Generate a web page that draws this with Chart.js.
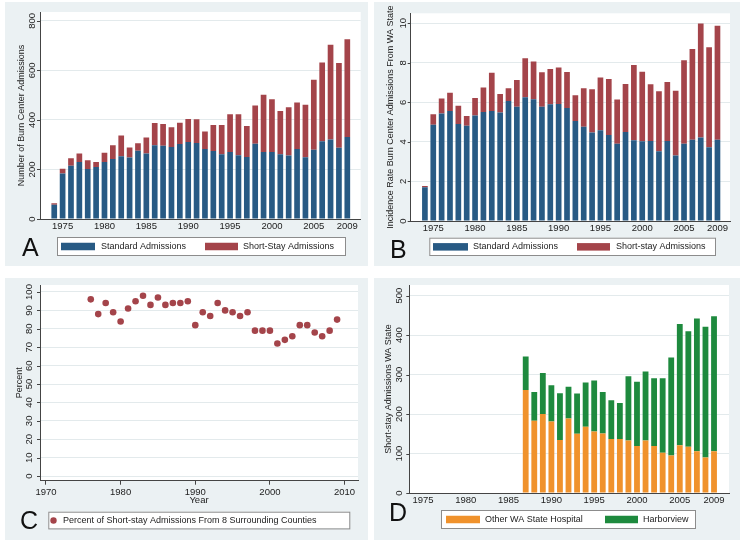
<!DOCTYPE html>
<html><head><meta charset="utf-8">
<script src="https://cdn.jsdelivr.net/npm/chart.js@4"></script>
<style>
body{margin:0;width:745px;height:545px;background:#fff;position:relative;overflow:hidden;font-family:'Liberation Sans',Arial,sans-serif;}
.panel{position:absolute;background:#ebf1f3;}
.panel canvas{position:absolute;left:0;top:0;}
.letter{position:absolute;font-size:25px;line-height:25px;color:#111;font-family:'Liberation Sans',Arial,sans-serif;}
</style></head><body>
<div class="panel" style="left:5px;top:2px;width:363px;height:264px"><canvas id="cA" width="363" height="264"></canvas></div>
<div class="panel" style="left:374px;top:2px;width:366px;height:264px"><canvas id="cB" width="366" height="264"></canvas></div>
<div class="panel" style="left:5px;top:278px;width:363px;height:262px"><canvas id="cC" width="363" height="262"></canvas></div>
<div class="panel" style="left:374px;top:278px;width:366px;height:262px"><canvas id="cD" width="366" height="262"></canvas></div>
<div class="letter" style="left:22px;top:235px">A</div>
<div class="letter" style="left:390px;top:237px">B</div>
<div class="letter" style="left:20px;top:508px">C</div>
<div class="letter" style="left:389px;top:500px">D</div>
<script>
// ---------- DATA ----------
const years = [1974,1975,1976,1977,1978,1979,1980,1981,1982,1983,1984,1985,1986,1987,1988,1989,1990,1991,1992,1993,1994,1995,1996,1997,1998,1999,2000,2001,2002,2003,2004,2005,2006,2007,2008,2009];
const barXTicks = [1975,1980,1985,1990,1995,2000,2005,2009];

// Panel A: number of burn center admissions
const aStandard  = [58,184,215,230,202,210,230,242,253,248,276,265,298,296,291,303,311,307,283,275,261,271,257,250,304,271,271,261,256,283,249,280,314,321,288,331];
const aShortStay = [6,19,30,35,35,20,38,56,84,41,30,64,90,88,80,86,93,96,70,105,119,152,166,126,154,231,213,175,195,188,212,282,318,383,342,395];
const aYTicks = [0,200,400,600,800];

// Panel B: incidence rate
const bStandard  = [1.70,4.86,5.43,5.56,4.91,4.81,5.33,5.51,5.56,5.48,6.07,5.78,6.26,6.15,5.78,5.90,5.91,5.71,5.06,4.76,4.47,4.59,4.35,3.90,4.50,4.08,4.03,4.05,3.52,4.05,3.31,3.91,4.11,4.22,3.73,4.11];
const bShortStay = [0.07,0.54,0.76,0.92,0.91,0.50,0.89,1.24,1.93,0.94,0.64,1.35,1.97,1.91,1.74,1.79,1.85,1.82,1.30,1.95,2.19,2.66,2.83,2.24,2.43,3.81,3.51,2.86,3.04,2.98,3.28,4.22,4.59,5.76,5.06,5.76];
const bYTicks = [0,2,4,6,8,10];

// Panel C: percent of short-stay admissions from 8 surrounding counties
const cYears = [1976,1977,1978,1979,1980,1981,1982,1983,1984,1985,1986,1987,1988,1989,1990,1991,1992,1993,1994,1995,1996,1997,1998,1999,2000,2001,2002,2003,2004,2005,2006,2007,2008,2009];
const cPercent = [96,88,94,89,84,91,95,98,93,97,93,94,94,95,82,89,87,94,90,89,87,89,79,79,79,72,74,76,82,82,78,76,79,85];
const cXTicks = [1970,1980,1990,2000,2010];
const cYTicks = [0,10,20,30,40,50,60,70,80,90,100];

// Panel D: short-stay admissions WA state
const dYears = [1987,1988,1989,1990,1991,1992,1993,1994,1995,1996,1997,1998,1999,2000,2001,2002,2003,2004,2005,2006,2007,2008,2009];
const dOtherHospital = [261,183,200,181,134,189,150,168,156,151,137,137,133,119,133,119,102,95,121,117,106,90,106];
const dHarborview    = [85,73,104,92,119,80,102,112,129,105,98,91,163,163,175,172,189,248,307,293,336,331,342];
const dYTicks = [0,100,200,300,400,500];

// ---------- STYLE ----------
const FONT = "'Liberation Sans', Arial, sans-serif";
const NAVY = '#285a84', MAROON = '#a4444a', ORANGE = '#f0922c', GREEN = '#1e8a3e';
const TXT = '#222', AXIS = '#444', GRID = '#e3eaec';

const stataPlugin = {
  id: 'stata',
  beforeDraw(chart) {
    const {ctx, chartArea: a} = chart;
    ctx.save(); ctx.fillStyle = '#fff';
    ctx.fillRect(a.left, a.top, a.right - a.left, a.bottom - a.top);
    ctx.restore();
  },
  afterDraw(chart, args, opts) {
    const {ctx, chartArea: a} = chart;
    const ys = chart.scales.y;
    ctx.save();
    ctx.font = '9.5px ' + FONT;
    ctx.fillStyle = TXT; ctx.strokeStyle = AXIS; ctx.lineWidth = 1;
    ys.ticks.forEach(t => {
      const y = ys.getPixelForValue(t.value);
      const yy = Math.round(y) + 0.5;
      ctx.beginPath(); ctx.moveTo(a.left - 3, yy); ctx.lineTo(a.left, yy); ctx.stroke();
      ctx.save(); ctx.translate(opts.labelX, y); ctx.rotate(-Math.PI / 2);
      ctx.textAlign = 'center'; ctx.textBaseline = 'middle';
      ctx.fillText(t.label != null ? String(t.label) : String(t.value), 0, 0);
      ctx.restore();
    });
    const L = opts.legend;
    ctx.fillStyle = '#fff'; ctx.fillRect(L.x, L.y, L.w, L.h);
    ctx.strokeStyle = '#8c8c8c'; ctx.strokeRect(L.x + 0.5, L.y + 0.5, L.w, L.h);
    const cy = L.y + L.h / 2 + 0.5;
    ctx.font = '9px ' + FONT; ctx.textBaseline = 'middle'; ctx.textAlign = 'left';
    L.items.forEach((it, i) => {
      const ds = chart.data.datasets[i];
      ctx.fillStyle = ds.backgroundColor;
      if (it.type === 'circle') {
        ctx.beginPath(); ctx.arc(it.x, cy, 3.2, 0, Math.PI * 2); ctx.fill();
      } else {
        ctx.fillRect(it.x, cy - 3.75, it.w, 7.5);
      }
      ctx.fillStyle = TXT;
      ctx.fillText(ds.label, it.textX, cy);
    });
    ctx.restore();
  }
};

function yScale(cfg) {
  return {
    stacked: cfg.stacked, min: cfg.min, max: cfg.max,
    afterBuildTicks: s => { s.ticks = cfg.ticks.map(v => ({value: v})); },
    afterFit: s => { s.width = cfg.width; },
    ticks: {display: false, callback: v => String(v)},
    grid: {color: GRID, drawTicks: false},
    border: {display: true, color: AXIS, width: 1},
    title: {display: true, text: cfg.title, color: TXT, font: {size: 9, family: FONT}, padding: {top: cfg.titlePad, bottom: 0}}
  };
}
function xBarScale(cfg) {
  return {
    type: 'linear', stacked: true, min: cfg.min, max: cfg.max, offset: false,
    afterBuildTicks: s => { s.ticks = barXTicks.map(v => ({value: v})); },
    afterFit: s => { s.height = cfg.height; },
    ticks: {callback: v => String(v), color: TXT, font: {size: 9.5, family: FONT}, padding: 2, maxRotation: 0, autoSkip: false},
    grid: {display: false, drawTicks: false, offset: false},
    border: {display: true, color: AXIS, width: 1}
  };
}
function pts(xs, vs) { return xs.map((x, i) => ({x: x, y: vs[i]})); }
function barDs(label, xs, vs, color) {
  return {label, data: pts(xs, vs), backgroundColor: color, borderWidth: 0, barPercentage: 0.68, categoryPercentage: 1};
}
const common = {responsive: false, animation: false, devicePixelRatio: 1};

// Panel A
new Chart(document.getElementById('cA'), {
  type: 'bar',
  data: {datasets: [
    barDs('Standard Admissions', years, aStandard, NAVY),
    barDs('Short-Stay Admissions', years, aShortStay, MAROON)
  ]},
  options: Object.assign({}, common, {
    layout: {padding: {left: 0, right: 7.3, top: 10, bottom: 27}},
    scales: {
      x: xBarScale({min: 1972.3, max: 2010.6, height: 20}),
      y: yScale({stacked: true, min: 0, max: 836, ticks: aYTicks, width: 35, title: 'Number of Burn Center Admissions', titlePad: 11.3})
    },
    plugins: {legend: {display: false}, tooltip: {enabled: false},
      stata: {labelX: 27.3, legend: {x: 52, y: 235, w: 288, h: 18, items: [{x: 56, w: 34, textX: 96}, {x: 200, w: 33, textX: 238}]}}}
  }),
  plugins: [stataPlugin]
});

// Panel B
new Chart(document.getElementById('cB'), {
  type: 'bar',
  data: {datasets: [
    barDs('Standard Admissions', years, bStandard, NAVY),
    barDs('Short-stay Admissions', years, bShortStay, MAROON)
  ]},
  options: Object.assign({}, common, {
    layout: {padding: {left: 0, right: 10, top: 11.3, bottom: 25}},
    scales: {
      x: xBarScale({min: 1972.3, max: 2010.5, height: 20}),
      y: yScale({stacked: true, min: 0, max: 10.5, ticks: bYTicks, width: 36.7, title: 'Incidence Rate Burn Center Admissions From WA State', titlePad: 11.3})
    },
    plugins: {legend: {display: false}, tooltip: {enabled: false},
      stata: {labelX: 29, legend: {x: 55.3, y: 235.7, w: 285.7, h: 17.3, items: [{x: 59, w: 35, textX: 99}, {x: 203, w: 33, textX: 242}]}}}
  }),
  plugins: [stataPlugin]
});

// Panel C
new Chart(document.getElementById('cC'), {
  type: 'scatter',
  data: {datasets: [{
    label: 'Percent of Short-stay Admissions From 8 Surrounding Counties',
    data: pts(cYears, cPercent), backgroundColor: MAROON, borderWidth: 0, pointRadius: 3.3
  }]},
  options: Object.assign({}, common, {
    layout: {padding: {left: 0, right: 10, top: 7, bottom: 31.3}},
    scales: {
      x: {type: 'linear', min: 1969.2, max: 2011.8,
        afterBuildTicks: s => { s.ticks = cXTicks.map(v => ({value: v})); },
        afterFit: s => { s.height = 28; },
        ticks: {callback: v => String(v), color: TXT, font: {size: 9.5, family: FONT}, padding: 1.5, maxRotation: 0, autoSkip: false},
        grid: {drawOnChartArea: false, drawTicks: true, tickLength: 4, color: AXIS},
        border: {display: true, color: AXIS, width: 1},
        title: {display: true, text: 'Year', color: TXT, font: {size: 9.5, family: FONT}, padding: {top: 0, bottom: 2.3}}
      },
      y: yScale({stacked: false, min: -2.5, max: 103.8, ticks: cYTicks, width: 35, title: 'Percent', titlePad: 8.9})
    },
    plugins: {legend: {display: false}, tooltip: {enabled: false},
      stata: {labelX: 24, legend: {x: 43.3, y: 233.7, w: 301, h: 16.7, items: [{type: 'circle', x: 48.5, textX: 58}]}}}
  }),
  plugins: [stataPlugin]
});

// Panel D
new Chart(document.getElementById('cD'), {
  type: 'bar',
  data: {datasets: [
    barDs('Other WA State Hospital', dYears, dOtherHospital, ORANGE),
    barDs('Harborview', dYears, dHarborview, GREEN)
  ]},
  options: Object.assign({}, common, {
    layout: {padding: {left: 0, right: 11, top: 7, bottom: 27}},
    scales: {
      x: xBarScale({min: 1973.4, max: 2010.75, height: 20}),
      y: yScale({stacked: true, min: 0, max: 527, ticks: dYTicks, width: 35.3, title: 'Short-stay Admissions WA State', titlePad: 8.9})
    },
    plugins: {legend: {display: false}, tooltip: {enabled: false},
      stata: {labelX: 25, legend: {x: 67, y: 232, w: 254, h: 18, items: [{x: 72, w: 34, textX: 111}, {x: 231, w: 33, textX: 269}]}}}
  }),
  plugins: [stataPlugin]
});
</script>
</body></html>
